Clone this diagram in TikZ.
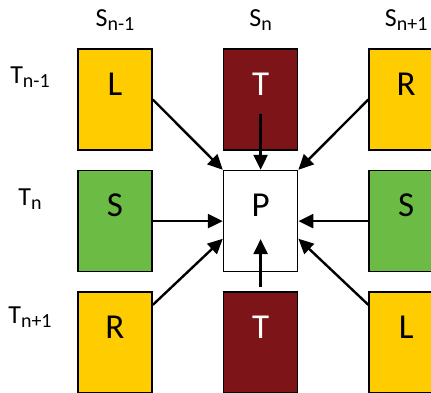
\documentclass[tikz,border=0pt]{standalone}
\usepackage{fontspec}
\setmainfont{Carlito}
\usetikzlibrary{positioning,arrows.meta}
\definecolor{gold}{RGB}{255,204,0}
\definecolor{leaf}{RGB}{108,187,69}
\definecolor{maroon}{RGB}{125,21,24}
\newcommand{\subix}[1]{\raisebox{-4pt}{\fontsize{20}{22}\selectfont #1}}

\begin{document}
\begin{tikzpicture}[x=1pt,y=-1pt,-{Triangle[length=15pt,width=14pt]},line width=2.4pt,node distance=70pt,
  box node/.style={rectangle,draw,line width=1.6pt,minimum width=74pt,inner sep=0pt,
    text height=46pt,text depth=55pt,font=\fontsize{35}{40}\selectfont},
  head node/.style={anchor=base,font=\fontsize{26}{30}\selectfont}]
  \clip (0,0) rectangle (431,392);
  \node[box node,fill=gold] (1) at (115,99.5) {L};
  \node[box node,fill=maroon,text=white] (2) [right=of 1] {T};
  \node[box node,fill=gold] (3) [right=of 2] {R};
  \node[box node,fill=leaf] (4) [below=19pt of 1] {S};
  \node[box node,fill=white] (5) [right=of 4] {P};
  \node[box node,fill=leaf] (6) [right=of 5] {S};
  \node[box node,fill=gold] (7) [below=19pt of 4] {R};
  \node[box node,fill=maroon,text=white] (8) [right=of 7] {T};
  \node[box node,fill=gold] (9) [right=of 8] {L};

  % column and row headers
  \node[head node] (s1) at ([yshift=22pt]1.north) {S\subix{n-1}};
  \node[head node] (s2) at ([yshift=22pt]2.north) {S\subix{n}};
  \node[head node] (s3) at ([yshift=22pt]3.north) {S\subix{n+1}};
  \node[head node] (t1) at (30,83) {T\subix{n-1}};
  \node[head node] (t2) at (30,205) {T\subix{n}};
  \node[head node] (t3) at (30,323) {T\subix{n+1}};

  \path
    (1.east) edge (5.north west)
    (3.west) edge (5.north east)
    (4) edge (5)
    (6) edge (5)
    (7.45) edge (5.-155)
    (9.135) edge (5.-25)
    ([yshift=-14pt]2.center) edge (5.north)
    ([yshift=4pt]8.north) edge ([yshift=-18pt]5.center);
\end{tikzpicture}
\end{document}
